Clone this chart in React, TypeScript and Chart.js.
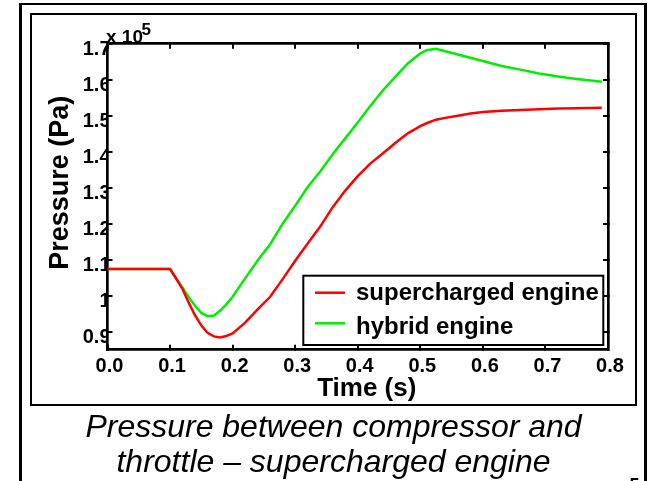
import React, { useEffect, useRef } from "react";
import { Chart, registerables } from "chart.js";

Chart.register(...registerables);

// Time samples (s)
const timeS = [
  0, 0.1, 0.11, 0.12, 0.13, 0.14, 0.15, 0.16, 0.17, 0.18, 0.19, 0.2, 0.22, 0.24,
  0.26, 0.28, 0.3, 0.32, 0.34, 0.36, 0.38, 0.4, 0.42, 0.44, 0.46, 0.48, 0.5,
  0.51, 0.525, 0.54, 0.56, 0.58, 0.6, 0.63, 0.66, 0.69, 0.72, 0.75, 0.79,
];

// Pressure, in units of 10^5 Pa
const superchargedP = [
  1.074, 1.074, 1.047, 1.018, 0.98, 0.945, 0.917, 0.897, 0.887, 0.884, 0.888,
  0.895, 0.925, 0.962, 0.997, 1.046, 1.097, 1.145, 1.192, 1.246, 1.292, 1.332,
  1.367, 1.395, 1.424, 1.451, 1.471, 1.479, 1.489, 1.494, 1.5, 1.506, 1.51,
  1.514, 1.516, 1.518, 1.52, 1.521, 1.522,
];

const hybridP = [
  1.074, 1.074, 1.047, 1.022, 0.995, 0.972, 0.952, 0.943, 0.945, 0.958, 0.976,
  0.997, 1.048, 1.098, 1.143, 1.2, 1.25, 1.302, 1.345, 1.393, 1.437, 1.481,
  1.527, 1.57, 1.608, 1.645, 1.673, 1.682, 1.686, 1.679, 1.67, 1.661, 1.652,
  1.638, 1.628, 1.617, 1.609, 1.602, 1.594,
];

const seriesNames = ["supercharged engine", "hybrid engine"];
const seriesColors = ["#ff0000", "#00ee00"];

const xTickValues = [0, 0.1, 0.2, 0.3, 0.4, 0.5, 0.6, 0.7, 0.8];
const xTickLabels = ["0.0", "0.1", "0.2", "0.3", "0.4", "0.5", "0.6", "0.7", "0.8"];
const yTickValues = [0.9, 1.0, 1.1, 1.2, 1.3, 1.4, 1.5, 1.6, 1.7];
const yTickLabels = ["0.9", "1", "1.1", "1.2", "1.3", "1.4", "1.5", "1.6", "1.7"];

const xTitle = "Time (s)";
const yTitle = "Pressure (Pa)";
const yExponentBase = "x 10";
const yExponent = "5";
const captionLines = ["Pressure between compressor and", "throttle – supercharged engine"];
const slideNumber = "5";

const FONT = '"Liberation Sans", Arial, Helvetica, sans-serif';

const decorPlugin = {
  id: "matlabDecor",
  afterDraw(chart: any) {
    const { ctx, chartArea: a } = chart;
    ctx.save();
    ctx.fillStyle = "#000";

    // y-axis title
    ctx.save();
    ctx.font = `bold 27px ${FONT}`;
    ctx.translate(a.left - 39.5, (a.top + a.bottom) / 2 - 14);
    ctx.rotate(-Math.PI / 2);
    ctx.textAlign = "center";
    ctx.textBaseline = "alphabetic";
    ctx.fillText(yTitle, 0, 0);
    ctx.restore();

    // x-axis title
    ctx.font = `bold 26px ${FONT}`;
    ctx.textAlign = "center";
    ctx.textBaseline = "alphabetic";
    ctx.fillText(xTitle, (a.left + a.right) / 2 + 9, a.bottom + 46.3);

    // exponent label
    ctx.textAlign = "left";
    ctx.font = `bold 19px ${FONT}`;
    ctx.fillText(yExponentBase, a.left - 1.5, a.top - 0.4);
    ctx.font = `bold 17px ${FONT}`;
    ctx.fillText(yExponent, a.left + 34, a.top - 8.5);

    // legend box
    const right = a.right - 4.7;
    const bottom = a.bottom - 4.7;
    const left = right - 300;
    const top = bottom - 69.3;
    ctx.fillStyle = "#fff";
    ctx.fillRect(left, top, right - left, bottom - top);
    ctx.strokeStyle = "#000";
    ctx.lineWidth = 2;
    ctx.strokeRect(left, top, right - left, bottom - top);
    const lineYs = [17, 47.6];
    const textYs = [24.3, 58.3];
    chart.data.datasets.forEach((ds: any, i: number) => {
      ctx.strokeStyle = ds.borderColor;
      ctx.lineWidth = 2.5;
      ctx.beginPath();
      ctx.moveTo(left + 11.7, top + lineYs[i]);
      ctx.lineTo(left + 41.7, top + lineYs[i]);
      ctx.stroke();
      ctx.fillStyle = "#000";
      ctx.font = `bold 24px ${FONT}`;
      ctx.textAlign = "left";
      ctx.textBaseline = "alphabetic";
      ctx.fillText(ds.label, left + 52.7, top + textYs[i]);
    });
    ctx.restore();
  },
};

export default function App() {
  const canvasRef = useRef<HTMLCanvasElement | null>(null);

  useEffect(() => {
    const canvas = canvasRef.current;
    if (!canvas) return;

    const gridOpts = {
      drawOnChartArea: false,
      drawTicks: true,
      tickLength: -5,
      tickWidth: 2,
      color: "#000",
      lineWidth: 2,
    };
    const borderOpts = { display: true, color: "#000", width: 2.7 };
    const xTicksBuild = (s: any) => {
      s.ticks = xTickValues.map((v) => ({ value: v }));
    };
    const yTicksBuild = (s: any) => {
      s.ticks = yTickValues.map((v) => ({ value: v }));
    };
    const tickFont = { family: FONT, size: 20, weight: "bold" as const };

    const chart = new Chart(canvas, {
      type: "line",
      data: {
        datasets: [
          {
            label: seriesNames[0],
            data: timeS.map((t, i) => ({ x: t, y: superchargedP[i] })),
            borderColor: seriesColors[0],
            backgroundColor: seriesColors[0],
            borderWidth: 2.5,
            pointRadius: 0,
            tension: 0,
            fill: false,
          },
          {
            label: seriesNames[1],
            data: timeS.map((t, i) => ({ x: t, y: hybridP[i] })),
            borderColor: seriesColors[1],
            backgroundColor: seriesColors[1],
            borderWidth: 2.5,
            pointRadius: 0,
            tension: 0,
            fill: false,
          },
        ],
      },
      options: {
        responsive: false,
        animation: false,
        events: [],
        layout: { padding: { left: 40, top: 43.7, right: 45, bottom: 91.3 } },
        plugins: { legend: { display: false }, tooltip: { enabled: false } },
        scales: {
          x: {
            type: "linear",
            position: "bottom",
            min: 0,
            max: 0.8,
            afterBuildTicks: xTicksBuild,
            afterFit: (s: any) => {
              s.height = 40;
            },
            grid: gridOpts,
            border: borderOpts,
            ticks: {
              color: "#000",
              font: tickFont,
              padding: 9.5,
              labelOffset: 2,
              autoSkip: false,
              maxRotation: 0,
              callback: (_v: any, i: number) => xTickLabels[i],
            },
          },
          x2: {
            type: "linear",
            position: "top",
            min: 0,
            max: 0.8,
            afterBuildTicks: xTicksBuild,
            afterFit: (s: any) => {
              s.height = 0;
            },
            grid: gridOpts,
            border: borderOpts,
            ticks: { display: false },
          },
          y: {
            type: "linear",
            position: "left",
            min: 0.85,
            max: 1.7,
            afterBuildTicks: yTicksBuild,
            afterFit: (s: any) => {
              s.width = 67.5;
            },
            grid: gridOpts,
            border: borderOpts,
            ticks: {
              color: "#000",
              font: tickFont,
              padding: 2,
              labelOffset: 6,
              autoSkip: false,
              callback: (_v: any, i: number) => yTickLabels[i],
            },
          },
          y2: {
            type: "linear",
            position: "right",
            min: 0.85,
            max: 1.7,
            afterBuildTicks: yTicksBuild,
            afterFit: (s: any) => {
              s.width = 0;
            },
            grid: gridOpts,
            border: borderOpts,
            ticks: { display: false },
          },
        },
      },
      plugins: [decorPlugin],
    });

    return () => chart.destroy();
  }, []);

  return (
    <div
      style={{
        position: "fixed",
        left: 0,
        top: 0,
        width: 653,
        height: 481,
        overflow: "hidden",
        background: "#fff",
      }}
    >
      <div
        style={{
          position: "absolute",
          left: 19,
          top: 3,
          width: 628,
          height: 600,
          boxSizing: "border-box",
          borderLeft: "3px solid #000",
          borderRight: "3px solid #000",
          borderTop: "2px solid #000",
        }}
      />
      <div
        style={{
          position: "absolute",
          left: 30,
          top: 13,
          width: 607,
          height: 393,
          boxSizing: "border-box",
          border: "2px solid #000",
        }}
      />
      <canvas
        ref={canvasRef}
        width={653}
        height={481}
        style={{ position: "absolute", left: 0, top: 0, width: 653, height: 481 }}
      />
      <div
        style={{
          position: "absolute",
          left: 33,
          width: 601,
          top: 409.4,
          textAlign: "center",
          fontFamily: FONT,
          fontStyle: "italic",
          fontSize: 32,
          lineHeight: "35px",
          color: "#000",
          whiteSpace: "nowrap",
        }}
      >
        {captionLines.map((l, i) => (
          <div key={i}>{l}</div>
        ))}
      </div>
      <div
        style={{
          position: "absolute",
          left: 629.5,
          top: 474.6,
          fontFamily: FONT,
          fontWeight: "bold",
          fontSize: 18,
          lineHeight: "20px",
          color: "#000",
        }}
      >
        {slideNumber}
      </div>
    </div>
  );
}
